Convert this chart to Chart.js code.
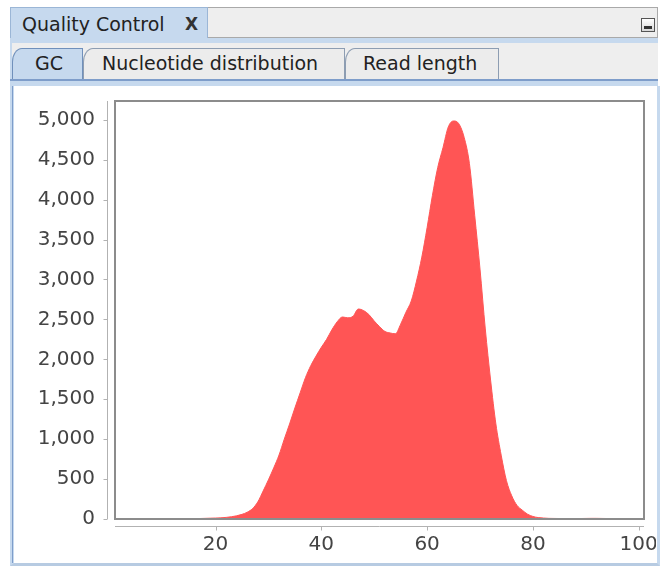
<!DOCTYPE html>
<html>
<head>
<meta charset="utf-8">
<title>Quality Control - GC</title>
<script src="https://cdn.jsdelivr.net/npm/chart.js@4.4.1/dist/chart.umd.min.js"></script>
<style>
  html, body { margin: 0; padding: 0; background: #fff; }
  body { width: 663px; height: 570px; position: relative; overflow: hidden;
         font-family: 'DejaVu Sans', sans-serif; color: #222; }
  .abs { position: absolute; box-sizing: border-box; }
  .titlebar { left: 10px; top: 7px; width: 648px; height: 31px; background: #eeeeee;
              border: 1px solid #a9a9a9; border-left: none; }
  .titletab { left: 10px; top: 7px; width: 198px; height: 36px; background: #c6d9ee;
              border-top: 1px solid #9bb6d6; border-left: 1px solid #9bb6d6; border-right: 1px solid #9bb6d6; }
  .titletab span { position: absolute; top: 5px; font-size: 19px; }
  .minbtn { left: 641px; top: 18px; width: 14px; height: 14px; border: 1px solid #555;
            background: linear-gradient(#ffffff, #d8d8d8); }
  .minbtn i { position: absolute; left: 2px; top: 7px; width: 8px; height: 3px; background: #333; }
  .band1 { left: 10px; top: 38px; width: 648px; height: 5px; background: #c6d9ee; }
  .tabrow { left: 10px; top: 43px; width: 648px; height: 37px; background: #eeeeee;
            border-left: 2px solid #c6d9ee; }
  .tab { top: 48px; height: 32px; background: #ececec; border: 1px solid #8d9db2; border-bottom: none;
         border-top-left-radius: 10px 14px; font-size: 19px; }
  .tab span { position: absolute; top: 3px; }
  .tab.sel { background: #c6d9ee; border-color: #7090bb; height: 33px; }
  .tabline { left: 10px; top: 79px; width: 648px; height: 2px; background: #7e9dca; }
  .band2 { left: 10px; top: 81px; width: 648px; height: 5px; background: #c6d9ee; }
  .content { left: 10px; top: 86px; width: 650px; height: 480px; background: #fff;
             border-left: 4px solid #c6d9ee; border-right: 3px solid #c6d9ee; border-bottom: 3px solid #b7cbe2; }
  .content:before { content: ''; position: absolute; left: -2px; top: 0; bottom: 0; width: 1px; background: #7e9dca; }
  canvas { position: absolute; left: 15px; top: 87px; }
</style>
</head>
<body>
<div class="abs titlebar"></div>
<div class="abs titletab"><span style="left:11px">Quality Control</span><span style="left:174px;font-size:17px;font-weight:bold;top:6px;color:#333">X</span></div>
<div class="abs minbtn"><i></i></div>
<div class="abs band1"></div>
<div class="abs tabrow"></div>
<div class="abs tab sel" style="left:12px;width:71px"><span style="left:22px">GC</span></div>
<div class="abs tab" style="left:83px;width:262px"><span style="left:18px">Nucleotide distribution</span></div>
<div class="abs tab" style="left:345px;width:154px"><span style="left:17px">Read length</span></div>
<div class="abs tabline"></div>
<div class="abs band2"></div>
<div class="abs content"></div>
<canvas id="gcChart" width="641" height="475"></canvas>

<script>
// GC content (%) and number of reads
const gcPercent = [];
for (let g = 1; g <= 100; g++) gcPercent.push(g);

const readCount = [
    0, 0, 0, 0, 0, 1, 1, 1, 2, 2,
    2, 3, 3, 4, 5, 5, 6, 8, 10, 12,
    15, 20, 28, 40, 58, 85, 130, 215, 350, 490,
    640, 800, 1000, 1190, 1390, 1580, 1770, 1920, 2040, 2150,
    2250, 2370, 2470, 2530, 2520, 2540, 2630, 2610, 2560, 2480,
    2410, 2350, 2330, 2320, 2440, 2590, 2730, 2980, 3280, 3650,
    4050, 4400, 4650, 4910, 4985, 4950, 4780, 4450, 3800, 3130,
    2380, 1740, 1190, 800, 480, 290, 170, 110, 60, 32,
    18, 12, 8, 7, 6, 6, 5, 5, 6, 7,
    8, 8, 7, 6, 5, 4, 4, 3, 3, 2
];

const xTicks = [20, 40, 60, 80, 100];
const yTicks = [0, 500, 1000, 1500, 2000, 2500, 3000, 3500, 4000, 4500, 5000];

const labelFont = { family: 'DejaVu Sans', size: 20 };

// offset axis lines with tick marks + grey plot outline
const axisFrame = {
    id: 'axisFrame',
    afterDatasetsDraw(chart) {
        const { ctx, chartArea: a, scales } = chart;
        const xs = scales.x, ys = scales.y;
        ctx.save();
        ctx.strokeStyle = '#b2b2b2';
        ctx.lineWidth = 1;
        ctx.beginPath();
        const ax = Math.round(a.left) - 7.5;
        ctx.moveTo(ax, a.top);
        ctx.lineTo(ax, a.bottom);
        ys.ticks.forEach(t => {
            const py = Math.round(ys.getPixelForValue(t.value)) + 0.5;
            ctx.moveTo(ax - 4, py);
            ctx.lineTo(ax, py);
        });
        const ay = Math.round(a.bottom) + 7.5;
        ctx.moveTo(a.left, ay);
        ctx.lineTo(a.right, ay);
        xs.ticks.forEach(t => {
            const px = Math.round(xs.getPixelForValue(t.value)) + 0.5;
            ctx.moveTo(px, ay);
            ctx.lineTo(px, ay + 4);
        });
        ctx.stroke();

        ctx.strokeStyle = '#8c8c8c';
        ctx.lineWidth = 2;
        ctx.strokeRect(a.left, a.top, a.right - a.left, a.bottom - a.top);
        ctx.restore();
    }
};

const ctx = document.getElementById('gcChart');
new Chart(ctx, {
    type: 'line',
    data: {
        datasets: [{
            data: gcPercent.map((g, i) => ({ x: g, y: readCount[i] })),
            backgroundColor: '#ff5555',
            borderColor: '#ff5555',
            borderWidth: 1,
            pointRadius: 0,
            fill: 'origin',
            cubicInterpolationMode: 'monotone'
        }]
    },
    options: {
        responsive: false,
        animation: false,
        devicePixelRatio: 1,
        layout: { padding: { top: 14, right: 12, left: 0, bottom: 0 } },
        plugins: { legend: { display: false }, tooltip: { enabled: false } },
        scales: {
            x: {
                type: 'linear',
                min: 1,
                max: 101,
                grid: { display: false, drawTicks: false },
                border: { display: false },
                ticks: { font: labelFont, color: '#444', padding: 14, maxRotation: 0, autoSkip: false,
                         callback: v => v.toLocaleString('en-US') },
                afterBuildTicks: s => { s.ticks = xTicks.map(v => ({ value: v })); },
                afterFit: s => { s.height = 43; s.paddingLeft = 0; s.paddingRight = 0; }
            },
            y: {
                type: 'linear',
                min: 0,
                max: 5235,
                grid: { display: false, drawTicks: false },
                border: { display: false },
                ticks: { font: labelFont, color: '#444', padding: 20, autoSkip: false,
                         callback: v => v.toLocaleString('en-US') },
                afterBuildTicks: s => { s.ticks = yTicks.map(v => ({ value: v })); },
                afterFit: s => { s.width = 100; s.paddingTop = 0; s.paddingBottom = 0; }
            }
        }
    },
    plugins: [axisFrame]
});
</script>
</body>
</html>
